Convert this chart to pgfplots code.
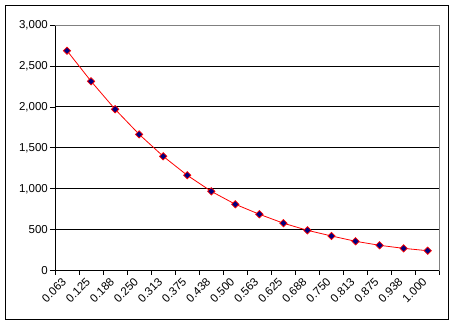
\documentclass[border=0pt]{standalone}
\usepackage{fontspec}
\setmainfont{Liberation Sans}
\usepackage{pgfplots}
\pgfplotsset{compat=1.18}
\definecolor{navyb}{RGB}{0,0,128}
\definecolor{xlgray}{RGB}{128,128,128}
\begin{document}
\begin{tikzpicture}
\path[use as bounding box] (0pt,0pt) rectangle (454pt,325pt);
\draw[black, line width=1pt] (5.5pt,5.5pt) rectangle (448.5pt,319.5pt);
\begin{axis}[
  at={(55pt,54.3pt)}, anchor=south west, scale only axis,
  width=384.7pt, height=245.7pt,
  xmin=-0.5, xmax=15.5, ymin=0, ymax=3000,
  axis lines=left, axis line style={-, black, line width=0.8pt},
  ytick={0,500,...,3000},
  ymajorgrids, grid style={black, line width=0.9pt},
  xtick={0,...,15},
  xticklabels={0.063,0.125,0.188,0.250,0.313,0.375,0.438,0.500,0.563,0.625,0.688,0.750,0.813,0.875,0.938,1.000},
  minor xtick={-0.5,0.5,...,15.5},
  major x tick style={draw=none},
  tick align=outside,
  major tick length=5pt, minor tick length=4pt,
  tick style={black, line width=0.8pt},
  ticklabel style={font=\fontsize{11.5}{13}\selectfont},
  xticklabel style={rotate=45, anchor=east, inner sep=1pt, xshift=-4pt, yshift=-1pt},
  yticklabel style={inner sep=2pt},
  /pgf/number format/1000 sep={,},
  /pgf/number format/assume math mode=true,
  clip=false,
]
\draw[xlgray, line width=0.9pt] (axis cs:-0.5,3000) -- (axis cs:15.5,3000) -- (axis cs:15.5,0);
\addplot[red, line width=0.8pt, mark=square*, mark size=2.6pt,
  mark options={fill=navyb, draw=red, line width=0.7pt, rotate=45}]
  coordinates {
  (0,2686) (1,2313) (2,1971) (3,1665) (4,1397) (5,1165) (6,969) (7,811)
  (8,689) (9,580) (10,493) (11,424) (12,359) (13,310) (14,273) (15,244)
  };
\end{axis}
\end{tikzpicture}
\end{document}
